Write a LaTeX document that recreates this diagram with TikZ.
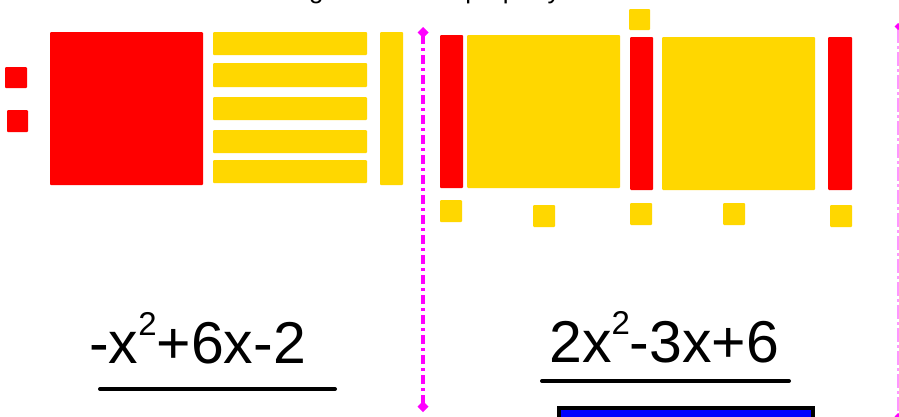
\documentclass[tikz,border=0pt]{standalone}
\usepackage{fontspec}
\setmainfont{Liberation Sans}
\usetikzlibrary{arrows.meta}
\definecolor{tileRed}{RGB}{255,0,0}
\definecolor{tileYel}{RGB}{255,215,0}
\definecolor{magLine}{RGB}{255,0,255}
\definecolor{magPale}{RGB}{255,150,255}
\definecolor{tileBlue}{RGB}{0,0,255}
\tikzset{
  redtile/.style={fill=tileRed, rounded corners=1pt},
  yeltile/.style={fill=tileYel, rounded corners=1pt},
  bigtext/.style={font=\fontsize{59}{62}\selectfont, inner sep=0pt, anchor=base west},
  uline/.style={line width=4pt, line cap=round},
}
\newcommand{\supTwo}{\raisebox{28pt}{\fontsize{33}{36}\selectfont 2}}
\begin{document}
\begin{tikzpicture}[x=1pt,y=-1pt]
\useasboundingbox (0,0) rectangle (899,416);
\clip (0,0) rectangle (899,416);
\fill[white] (0,0) rectangle (899,416);
% cut-off title
\node[font=\fontsize{26}{28}\selectfont, anchor=base west, inner sep=0pt] (title) at (257,-1.5) {Using the inverse property};
% left group
\fill[redtile] (5,67) rectangle (27,88);
\fill[redtile] (7,110) rectangle (28,132);
\fill[redtile] (50,32) rectangle (203,185);
\fill[yeltile] (213,32) rectangle (367,55);
\fill[yeltile] (213,63) rectangle (367,87);
\fill[yeltile] (213,97) rectangle (367,120);
\fill[yeltile] (213,130) rectangle (367,153);
\fill[yeltile] (213,160) rectangle (367,183);
\fill[yeltile] (380,32) rectangle (403,185);
% divider
\coordinate (dTop) at (423,27);
\coordinate (dBot) at (423,412);
\draw[magLine, line width=4pt, dash pattern=on 9pt off 4pt on 3pt off 4pt,
  {Diamond[width=11pt,length=11pt]}-{Diamond[width=11pt,length=11pt]}] (dTop) -- (dBot);
% right group
\fill[redtile] (440,35) rectangle (463,188);
\fill[yeltile] (467,35) rectangle (620,188);
\fill[yeltile] (629,9) rectangle (650,30);
\fill[redtile] (630,37) rectangle (653,190);
\fill[yeltile] (662,37) rectangle (815,190);
\fill[redtile] (828,37) rectangle (852,190);
\fill[yeltile] (440,200) rectangle (462,222);
\fill[yeltile] (533,205) rectangle (555,227);
\fill[yeltile] (630,203) rectangle (652,225);
\fill[yeltile] (723,203) rectangle (745,225);
\fill[yeltile] (830,205) rectangle (852,227);
% right pale divider
\coordinate (eTop) at (898,23);
\coordinate (eBot) at (898,420);
\draw[magPale, line width=1.5pt, dash pattern=on 14pt off 3pt on 3pt off 3pt,
  {Diamond[width=7pt,length=7pt,fill=magLine,color=magLine]}-{Diamond[width=7pt,length=7pt,fill=magLine,color=magLine]}] (eTop) -- (eBot);
% expressions
\node[bigtext] (exprL) at (89,363) {-x\supTwo+6x-2};
\coordinate (uLa) at (100,389);
\coordinate (uLb) at (335,389);
\draw[uline] (uLa) -- (uLb);
\node[bigtext] (exprR) at (549,362) {2x\supTwo-3x+6};
\coordinate (uRa) at (542,381);
\coordinate (uRb) at (789,381);
\draw[uline] (uRa) -- (uRb);
% blue box at bottom
\draw[fill=tileBlue, line width=4pt] (559,408) rectangle (813,450);
\end{tikzpicture}
\end{document}
